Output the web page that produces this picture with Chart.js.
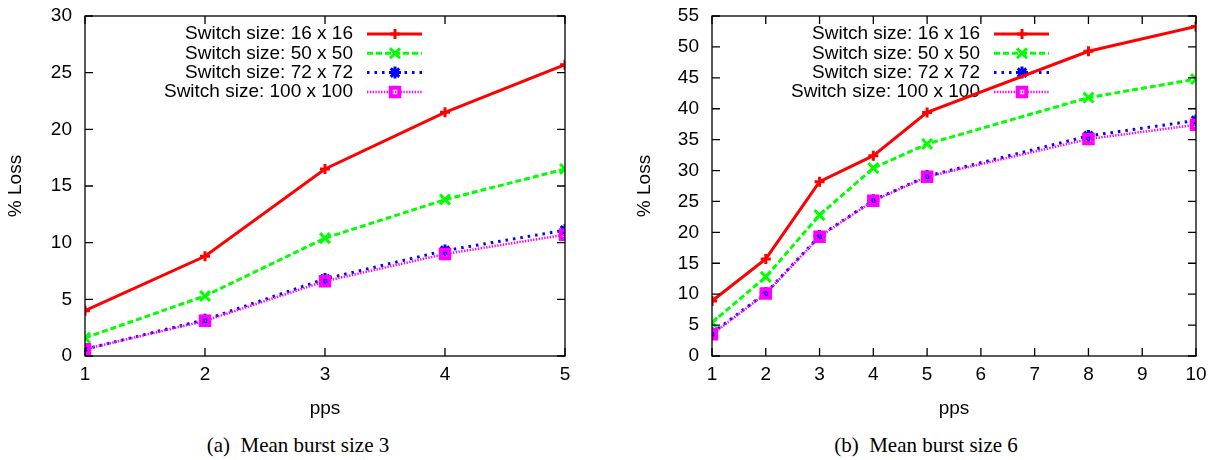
<!DOCTYPE html>
<html>
<head>
<meta charset="utf-8">
<script src="https://cdn.jsdelivr.net/npm/chart.js@4/dist/chart.umd.min.js"></script>
<style>
  body { margin: 0; background: #fff; }
  #wrap { position: relative; width: 1211px; height: 460px; }
  canvas { position: absolute; top: 0; }
  .cap { position: absolute; top: 433px; font: 21px "Liberation Serif", "Times New Roman", serif; line-height: 24px; transform: translateX(-50%); white-space: pre; }
</style>
</head>
<body>
<div id="wrap">
  <canvas id="chartA" width="605" height="425" style="left:0"></canvas>
  <canvas id="chartB" width="606" height="425" style="left:605px"></canvas>
  <div class="cap" style="left:298px">(a)  Mean burst size 3</div>
  <div class="cap" style="left:926px">(b)  Mean burst size 6</div>
</div>
<script>
// series labels
const sizes = ["Switch size: 16 x 16", "Switch size: 50 x 50", "Switch size: 72 x 72", "Switch size: 100 x 100"];

// (a) mean burst size 3
const ppsA = [1, 2, 3, 4, 5];
const lossA16 = [4.0, 8.8, 16.5, 21.5, 25.7];
const lossA50 = [1.6, 5.3, 10.4, 13.8, 16.5];
const lossA72 = [0.6, 3.2, 6.8, 9.3, 11.1];
const lossA100 = [0.6, 3.1, 6.6, 9.0, 10.7];

// (b) mean burst size 6
const ppsB = [1, 2, 3, 4, 5, 8, 10];
const lossB16 = [8.9, 15.7, 28.2, 32.4, 39.4, 49.3, 53.3];
const lossB50 = [5.4, 12.8, 22.8, 30.4, 34.3, 41.8, 44.8];
const lossB72 = [3.7, 10.2, 19.4, 25.2, 29.1, 35.6, 38.1];
const lossB100 = [3.5, 10.1, 19.3, 25.1, 29.0, 35.1, 37.4];

Chart.defaults.font.family = '"Liberation Sans", Arial, sans-serif';
Chart.defaults.font.size = 19;
Chart.defaults.color = "#000";

const styles = [
  { color: "#ff0000", width: 3, dash: [], point: "cross", radius: 5, pw: 3 },
  { color: "#00ff00", width: 3, dash: [6, 3], point: "crossRot", radius: 7, pw: 3 },
  { color: "#0000ff", width: 3, dash: [2.5, 5], point: "star", radius: 6, pw: 3 },
  { color: "#ff00ff", width: 2.5, dash: [1.4, 1.4], point: "rect", radius: 6, pw: 4 }
];

function makeSets(xs, series) {
  return series.map((ys, i) => {
    const s = styles[i];
    return {
      label: sizes[i],
      data: xs.map((x, k) => ({ x: x, y: ys[k] })),
      borderColor: s.color,
      backgroundColor: i === 3 ? "rgba(0,0,0,0)" : s.color,
      borderWidth: s.width,
      borderDash: s.dash,
      pointStyle: s.point,
      pointRadius: s.radius,
      pointBorderWidth: s.pw,
      pointBorderColor: s.color,
      pointBackgroundColor: i === 3 ? "rgba(0,0,0,0)" : s.color,
      tension: 0,
      order: 3 - i
    };
  });
}

// key drawn inside the plot: text right aligned, sample to its right
const keyPlugin = {
  id: "key",
  beforeDatasetsDraw(chart) {
    const ctx = chart.ctx, a = chart.chartArea;
    const textRight = a.left + 268;
    ctx.save();
    chart.data.datasets.forEach((ds, i) => {
      const y = a.top + 18 + i * 19.3;
      ctx.fillStyle = "#000";
      ctx.font = '19px "Liberation Sans", Arial, sans-serif';
      ctx.textAlign = "right";
      ctx.textBaseline = "middle";
      ctx.fillText(ds.label, textRight, y);
      ctx.strokeStyle = ds.borderColor;
      ctx.lineWidth = ds.borderWidth;
      ctx.setLineDash(ds.borderDash);
      ctx.beginPath();
      ctx.moveTo(textRight + 14, y);
      ctx.lineTo(textRight + 69, y);
      ctx.stroke();
      ctx.setLineDash([]);
      ctx.strokeStyle = ds.pointBorderColor;
      ctx.fillStyle = ds.pointBackgroundColor;
      ctx.lineWidth = ds.pointBorderWidth;
      Chart.helpers.drawPoint(ctx, { pointStyle: ds.pointStyle, radius: ds.pointRadius, rotation: 0, borderWidth: ds.pointBorderWidth }, textRight + 42, y);
    });
    ctx.restore();
  }
};

// box border with tick marks pointing inwards on all four sides
const framePlugin = {
  id: "frame",
  afterDatasetsDraw(chart) {
    const ctx = chart.ctx, a = chart.chartArea;
    const xs = chart.scales.x, ys = chart.scales.y;
    const len = 8;
    ctx.save();
    ctx.strokeStyle = "#000";
    ctx.lineWidth = 1.3;
    ctx.strokeRect(a.left, a.top, a.right - a.left, a.bottom - a.top);
    ctx.beginPath();
    xs.ticks.forEach(t => {
      const px = xs.getPixelForValue(t.value);
      ctx.moveTo(px, a.bottom); ctx.lineTo(px, a.bottom - len);
      ctx.moveTo(px, a.top); ctx.lineTo(px, a.top + len);
    });
    ys.ticks.forEach(t => {
      const py = ys.getPixelForValue(t.value);
      ctx.moveTo(a.left, py); ctx.lineTo(a.left + len, py);
      ctx.moveTo(a.right, py); ctx.lineTo(a.right - len, py);
    });
    ctx.stroke();
    ctx.restore();
  }
};

function makeChart(id, xs, series, xMax, yMax, padLeft, padRight, yWidth) {
  return new Chart(document.getElementById(id), {
    type: "line",
    data: { datasets: makeSets(xs, series) },
    options: {
      responsive: false,
      animation: false,
      devicePixelRatio: 1,
      layout: { padding: { left: padLeft, right: padRight, top: 16, bottom: 0 } },
      plugins: { legend: { display: false }, tooltip: { enabled: false } },
      scales: {
        x: {
          type: "linear", min: 1, max: xMax,
          grid: { display: false, drawTicks: false }, border: { display: false },
          ticks: { stepSize: 1, padding: 7, maxRotation: 0 },
          title: { display: true, text: "pps", padding: { top: 0, bottom: 5 } },
          afterFit(s) { s.height = 69; s.paddingLeft = 0; s.paddingRight = 0; }
        },
        y: {
          min: 0, max: yMax,
          grid: { display: false, drawTicks: false }, border: { display: false },
          ticks: { stepSize: 5, padding: 13 },
          title: { display: true, text: "% Loss", padding: { top: 4, bottom: 0 } },
          afterFit(s) { s.width = yWidth; s.paddingTop = 0; s.paddingBottom = 0; }
        }
      }
    },
    plugins: [keyPlugin, framePlugin]
  });
}

makeChart("chartA", ppsA, [lossA16, lossA50, lossA72, lossA100], 5, 30, 0, 40, 85);
makeChart("chartB", ppsB, [lossB16, lossB50, lossB72, lossB100], 10, 55, 24, 15, 83);
</script>
</body>
</html>
